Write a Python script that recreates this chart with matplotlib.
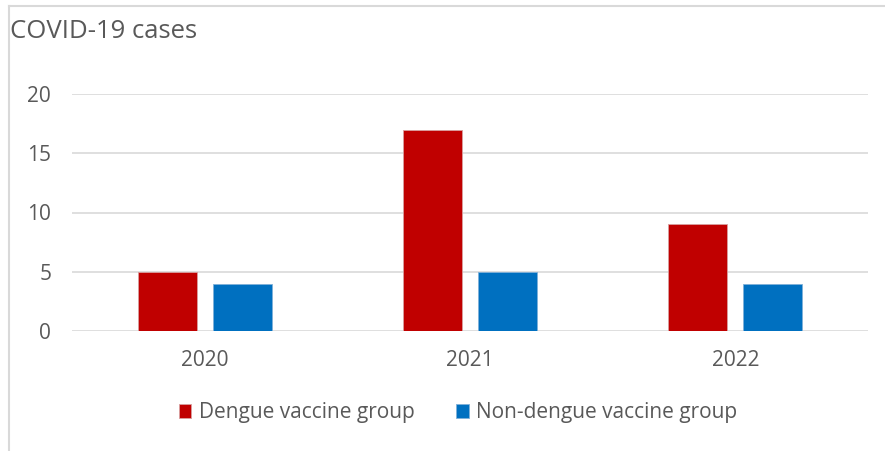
import numpy as np
from matplotlib import pyplot as plt
from matplotlib.lines import Line2D

# data
years = ["2020", "2021", "2022"]
dengue = [5, 17, 9]
non_dengue = [4, 5, 4]
y_ticks = [0, 5, 10, 15, 20]

red = "#C00000"
blue = "#0070C0"
text_col = "#595959"
grid_col = "#D9D9D9"

plt.rcParams["font.family"] = ["Open Sans", "DejaVu Sans"]

fig = plt.figure(figsize=(8.85, 4.51), dpi=100)
ax = fig.add_axes([72 / 885, 1 - 331 / 451, 796 / 885, 237 / 451])

x = np.arange(len(years))
w = 0.223
off = 0.1415
ax.bar(x - off, dengue, w, color=red, edgecolor="#D8A0A0", linewidth=0.6,
       label="Dengue vaccine group", zorder=3)
ax.bar(x + off, non_dengue, w, color=blue, edgecolor="#80B0D8", linewidth=0.6,
       label="Non-dengue vaccine group", zorder=3)

ax.set_xlim(-0.5, 2.5)
ax.set_ylim(0, 20)
ax.set_xticks(x)
ax.set_xticklabels(years)
ax.set_yticks(y_ticks)
ax.tick_params(length=0, labelsize=15, colors=text_col)
ax.tick_params(axis="y", pad=15)
ax.tick_params(axis="x", pad=14)
ax.grid(axis="y", color=grid_col, linewidth=1.2, zorder=0)
for s in ax.spines.values():
    s.set_visible(False)

fig.text(10 / 885, 1 - 31 / 451, "COVID-19 cases", fontsize=18.5, color=text_col,
         va="center", ha="left")

ax.legend(loc="center", bbox_to_anchor=(0.485, -0.345), ncol=2, frameon=False,
          fontsize=15, labelcolor=text_col, handlelength=0.6, handleheight=0.6,
          handletextpad=0.35, columnspacing=2.0)

# chart border (top and left only, rest is cut off)
fig.add_artist(Line2D([8.5 / 885, 1], [1 - 6 / 451, 1 - 6 / 451],
                      transform=fig.transFigure, color=grid_col, linewidth=1.5))
fig.add_artist(Line2D([8.5 / 885, 8.5 / 885], [0, 1 - 6 / 451],
                      transform=fig.transFigure, color=grid_col, linewidth=1.5))

fig.savefig("out.png", dpi=100)
